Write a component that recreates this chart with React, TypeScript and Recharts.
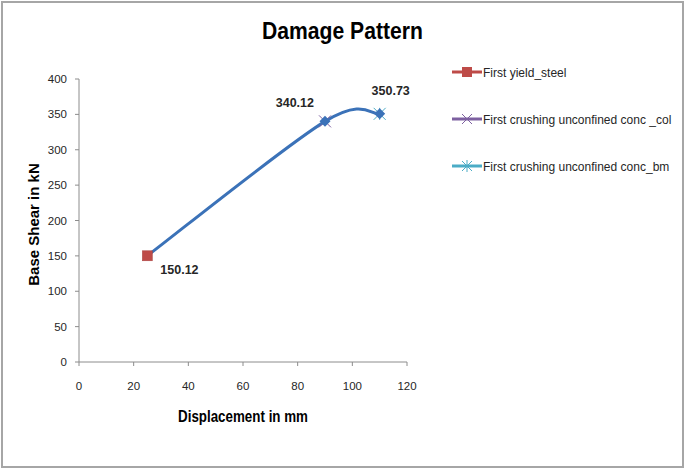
import {
  ComposedChart,
  Line,
  Scatter,
  XAxis,
  YAxis,
} from "recharts";

const displacement = [25, 90, 110];
const baseShear = [150.12, 340.12, 350.73];
const seriesNames = [
  "First yield_steel",
  "First crushing unconfined conc _col",
  "First crushing unconfined conc_bm",
];
const xTicks = [0, 20, 40, 60, 80, 100, 120];
const yTicks = [0, 50, 100, 150, 200, 250, 300, 350, 400];

const LINE_COLOR = "#3b72b8";
const MARKER_COLORS = ["#be4b48", "#7d60a0", "#4bacc6"];
const AXIS_COLOR = "#8c8c8c";
const TEXT_COLOR = "#262626";
const SANS = "'Liberation Sans', Arial, sans-serif";

// label offsets for each marker (dx, dy, anchor)
const labelOffsets: { dx: number; dy: number; anchor: "start" | "middle" | "end" }[] = [
  { dx: 13, dy: 18, anchor: "start" },
  { dx: -11, dy: -14, anchor: "end" },
  { dx: 11, dy: -19, anchor: "middle" },
];

const rows = displacement.map((x, i) => ({ x, y: baseShear[i] }));

// Excel style smoothed line (catmull-rom like bezier segments)
function excelSmooth(context: any) {
  let pts: number[][] = [];
  return {
    areaStart() {},
    areaEnd() {},
    lineStart() {
      pts = [];
    },
    point(x: number, y: number) {
      pts.push([+x, +y]);
    },
    lineEnd() {
      if (!pts.length) return;
      context.moveTo(pts[0][0], pts[0][1]);
      for (let i = 0; i < pts.length - 1; i++) {
        const p0 = pts[Math.max(i - 1, 0)];
        const p1 = pts[i];
        const p2 = pts[i + 1];
        const p3 = pts[Math.min(i + 2, pts.length - 1)];
        context.bezierCurveTo(
          p1[0] + (p2[0] - p0[0]) / 6,
          p1[1] + (p2[1] - p0[1]) / 6,
          p2[0] - (p3[0] - p1[0]) / 6,
          p2[1] - (p3[1] - p1[1]) / 6,
          p2[0],
          p2[1]
        );
      }
    },
  };
}

function ValueLabel({ cx, cy, i }: { cx: number; cy: number; i: number }) {
  const o = labelOffsets[i];
  return (
    <text x={cx + o.dx} y={cy + o.dy} textAnchor={o.anchor} fontFamily={SANS} fontSize={12.5} fontWeight={700} fill={TEXT_COLOR}>
      {baseShear[i].toFixed(2)}
    </text>
  );
}

function SquareMarker(props: any) {
  const { cx, cy } = props;
  return (
    <g>
      <rect x={cx - 5} y={cy - 5} width={10} height={10} fill={MARKER_COLORS[0]} stroke="#a8403d" strokeWidth={0.5} />
      <ValueLabel cx={cx} cy={cy} i={0} />
    </g>
  );
}

function CrossMarker(props: any) {
  const { cx, cy } = props;
  const s = 6;
  return (
    <g>
      <path d={`M${cx - s},${cy - s}L${cx + s},${cy + s}M${cx - s},${cy + s}L${cx + s},${cy - s}`} stroke={MARKER_COLORS[1]} strokeWidth={1} fill="none" />
      <ValueLabel cx={cx} cy={cy} i={1} />
    </g>
  );
}

function StarMarker(props: any) {
  const { cx, cy } = props;
  const s = 6;
  return (
    <g>
      <path d={`M${cx - s},${cy - s}L${cx + s},${cy + s}M${cx - s},${cy + s}L${cx + s},${cy - s}M${cx},${cy - s}L${cx},${cy + s}`} stroke={MARKER_COLORS[2]} strokeWidth={1} fill="none" />
      <ValueLabel cx={cx} cy={cy} i={2} />
    </g>
  );
}

function Diamond(props: any) {
  const { cx, cy, index } = props;
  if (index === 0 || cx == null) return <g key={index} />;
  const s = 5.5;
  return <path key={index} d={`M${cx},${cy - s}L${cx + s},${cy}L${cx},${cy + s}L${cx - s},${cy}Z`} fill={LINE_COLOR} />;
}

function LegendIcon({ i }: { i: number }) {
  const c = MARKER_COLORS[i];
  return (
    <svg width={30} height={12} style={{ display: "block", flex: "none" }}>
      <line x1={0} y1={6} x2={30} y2={6} stroke={c} strokeWidth={3} />
      {i === 0 && <rect x={10} y={1} width={10} height={10} fill={c} />}
      {i === 1 && <path d="M10,1L20,11M10,11L20,1" stroke={c} strokeWidth={1} />}
      {i === 2 && <path d="M10,1L20,11M10,11L20,1M15,0L15,12" stroke={c} strokeWidth={1} />}
    </svg>
  );
}

export default function App() {
  return (
    <div style={{ position: "absolute", left: 0, top: 0, width: 685, height: 470, background: "#fff" }}>
      <div style={{ position: "absolute", left: 1, top: 1, width: 683, height: 467, boxSizing: "border-box", border: "2px solid #a6a6a6" }} />
      <div style={{ position: "absolute", left: 0, top: 17, width: 685, textAlign: "center", fontFamily: SANS, fontWeight: 700, fontSize: 24, color: "#000", transform: "scaleX(0.88)", transformOrigin: "342px 0" }}>
        Damage Pattern
      </div>
      <div style={{ position: "absolute", left: 0, top: 0 }}>
        <ComposedChart width={685} height={470} margin={{ top: 79, right: 278, bottom: 38, left: 0 }}>
          <XAxis
            type="number"
            dataKey="x"
            domain={[0, 120]}
            ticks={xTicks}
            interval={0}
            axisLine={{ stroke: AXIS_COLOR }}
            tickLine={{ stroke: AXIS_COLOR }}
            tickSize={4}
            tickMargin={16}
            height={70}
            tick={{ fill: TEXT_COLOR, fontSize: 11.5, fontFamily: SANS }}
          />
          <YAxis
            type="number"
            dataKey="y"
            domain={[0, 400]}
            ticks={yTicks}
            interval={0}
            width={79}
            axisLine={{ stroke: AXIS_COLOR }}
            tickLine={{ stroke: AXIS_COLOR }}
            tickSize={4}
            tickMargin={8}
            tick={{ fill: TEXT_COLOR, fontSize: 11.5, fontFamily: SANS }}
            label={{ value: "Base Shear in kN", angle: -90, position: "center", dx: -6, dy: 4, style: { fontFamily: SANS, fontWeight: 700, fontSize: 15, fill: "#000" } }}
          />
          <Scatter data={[rows[1]]} dataKey="y" shape={CrossMarker} isAnimationActive={false} />
          <Scatter data={[rows[2]]} dataKey="y" shape={StarMarker} isAnimationActive={false} />
          <Line
            data={rows}
            dataKey="y"
            type={excelSmooth as any}
            stroke={LINE_COLOR}
            strokeWidth={3}
            dot={Diamond}
            activeDot={false}
            isAnimationActive={false}
          />
          <Scatter data={[rows[0]]} dataKey="y" shape={SquareMarker} isAnimationActive={false} />
        </ComposedChart>
      </div>
      <div style={{ position: "absolute", left: 143, top: 407, width: 200, textAlign: "center", fontFamily: SANS, fontWeight: 700, fontSize: 16.5, color: "#000", whiteSpace: "nowrap", transform: "scaleX(0.81)", transformOrigin: "100px 0" }}>
        Displacement in mm
      </div>
      <div style={{ position: "absolute", left: 452, top: 63 }}>
        {seriesNames.map((name, i) => (
          <div key={name} style={{ display: "flex", alignItems: "center", height: 18, marginBottom: i < 2 ? 29 : 0, whiteSpace: "nowrap" }}>
            <LegendIcon i={i} />
            <span style={{ fontFamily: SANS, fontSize: 13.5, color: TEXT_COLOR, marginLeft: 1, display: "inline-block", transform: "scaleX(0.89)", transformOrigin: "0 50%" }}>{name}</span>
          </div>
        ))}
      </div>
    </div>
  );
}
